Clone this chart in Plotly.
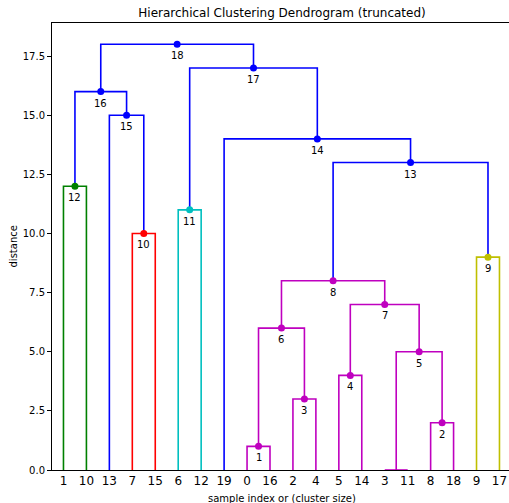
import plotly.graph_objects as go

# ---- data ----
leaf_labels = ["1", "10", "13", "7", "15", "6", "12", "19", "0", "16",
               "2", "4", "5", "14", "3", "11", "8", "18", "9", "17"]
# merges in order; children are leaf labels or "h<height>" for an earlier merge
merge_height = [12, 10, 15, 16, 11, 1, 3, 6, 4, 0, 2, 5, 7, 8, 9, 13, 14, 17, 18]
merge_left = ["1", "7", "13", "h12", "6", "0", "2", "h1", "5", "3", "8", "h0",
              "h4", "h6", "9", "h8", "19", "h11", "h16"]
merge_right = ["10", "15", "h10", "h15", "12", "16", "4", "h3", "14", "11", "18", "h2",
               "h5", "h7", "17", "h9", "h13", "h14", "h17"]
merge_color = ["g", "r", "b", "b", "c", "m", "m", "m", "m", "m", "m", "m",
               "m", "m", "y", "b", "b", "b", "b"]
y_ticks = [0.0, 2.5, 5.0, 7.5, 10.0, 12.5, 15.0, 17.5]

color_hex = {"b": "#0000ff", "g": "#008000", "r": "#ff0000",
             "c": "#00bfbf", "m": "#bf00bf", "y": "#bfbf00"}

# ---- positions (scipy-style: leaves at 5, 15, 25, ...) ----
pos = {}
for i, lab in enumerate(leaf_labels):
    pos[lab] = (5 + 10 * i, 0.0)

lines = {}
dots = {}
annots = []
for h, l, r, c in zip(merge_height, merge_left, merge_right, merge_color):
    xl, yl = pos[l]
    xr, yr = pos[r]
    xs = [xl, xl, xr, xr, None]
    ys = [yl, h, h, yr, None]
    lines.setdefault(c, ([], []))
    lines[c][0].extend(xs)
    lines[c][1].extend(ys)
    xm = 0.5 * (xl + xr)
    pos["h%d" % h] = (xm, h)
    if h > 0:
        dots.setdefault(c, ([], []))
        dots[c][0].append(xm)
        dots[c][1].append(h)
        annots.append((xm, h, "%.3g" % h))

fig = go.Figure()
for c, (xs, ys) in lines.items():
    fig.add_trace(go.Scatter(x=xs, y=ys, mode="lines",
                             line=dict(color=color_hex[c], width=1.6),
                             hoverinfo="skip", showlegend=False))
for c, (xs, ys) in dots.items():
    fig.add_trace(go.Scatter(x=xs, y=ys, mode="markers",
                             marker=dict(color=color_hex[c], size=7),
                             showlegend=False, cliponaxis=False))

for x, y, t in annots:
    fig.add_annotation(x=x, y=y, text=t, showarrow=False, xanchor="center",
                       yanchor="top", yshift=-4,
                       font=dict(size=10, color="black", family="DejaVu Sans"))

W, H = 509, 503
L, T, B = 52, 23, 33
plot_w = W - L
fig.update_layout(
    width=W, height=H,
    margin=dict(l=L, r=0, t=T, b=B),
    plot_bgcolor="white", paper_bgcolor="white",
    font=dict(family="DejaVu Sans", size=10, color="black"),
    title=dict(text="Hierarchical Clustering Dendrogram (truncated)",
               x=(282 - L) / plot_w, xref="paper", xanchor="center",
               y=1 - 13 / H, yref="container", yanchor="middle",
               font=dict(size=12, color="black")),
    xaxis=dict(range=[0, plot_w / 2.2947], showgrid=False, zeroline=False,
               showline=True, linecolor="black", linewidth=1, mirror=True,
               tickvals=[5 + 10 * i for i in range(len(leaf_labels))],
               ticktext=leaf_labels, ticks="",
               tickfont=dict(size=12)),
    yaxis=dict(range=[0, 18.9], showgrid=False, zeroline=False,
               showline=True, linecolor="black", linewidth=1,
               tickvals=y_ticks, ticktext=["%.1f" % v for v in y_ticks],
               ticks="outside", ticklen=4, tickwidth=1, tickcolor="black",
               tickfont=dict(size=10)),
)
fig.add_annotation(text="distance", xref="paper", yref="paper",
                   x=(13 - L) / plot_w, y=0.5, textangle=-90, showarrow=False,
                   xanchor="center", yanchor="middle", font=dict(size=10))
fig.add_annotation(text="sample index or (cluster size)", xref="paper", yref="paper",
                   x=(282 - L) / plot_w, y=-(498 - 470) / (H - T - B), showarrow=False,
                   xanchor="center", yanchor="middle", font=dict(size=10))

fig.write_html("out.html")
